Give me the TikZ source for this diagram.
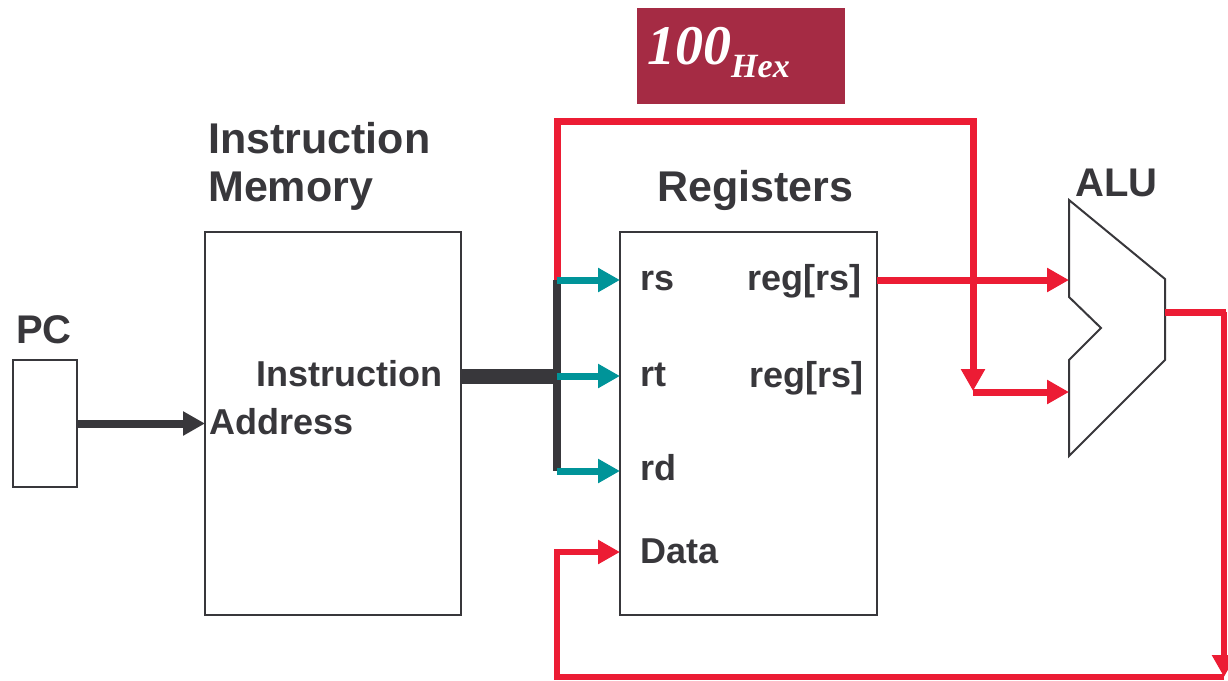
\documentclass[tikz,border=0pt]{standalone}
\usepackage{fontspec}
\setmainfont{Liberation Sans}
\newfontfamily\numfont{Liberation Serif}
\usetikzlibrary{arrows.meta}

\definecolor{ink}{RGB}{56,55,59}
\definecolor{wire}{RGB}{236,28,52}
\definecolor{tealwire}{RGB}{0,148,153}
\definecolor{maroon}{RGB}{165,43,68}

\begin{document}
\begin{tikzpicture}[x=1pt,y=-1pt,
  box/.style={draw=ink, line width=2pt, inner sep=0pt, outer sep=0pt, anchor=north west},
  title/.style={text=ink, font=\bfseries\fontsize{43}{48}\selectfont, inner sep=0pt, anchor=base west},
  port/.style={text=ink, font=\bfseries\fontsize{36}{40}\selectfont, inner sep=0pt, anchor=base west},
  headtip/.style={-{Triangle[length=22pt,width=23pt]}},
  darkwire/.style={draw=ink, line width=8pt},
  redwire/.style={draw=wire, line width=7pt},
  loopwire/.style={draw=wire, line width=5.5pt},
  tapwire/.style={draw=tealwire, line width=7pt, headtip},
]
\useasboundingbox (0,0) rectangle (1228,680);

% constant label
\node[fill=maroon, minimum width=208pt, minimum height=96pt, inner sep=0pt, anchor=north west] (hex) at (637,8) {};
\node[text=white, inner sep=0pt, anchor=base west,
      font=\numfont\bfseries\itshape\fontsize{56}{56}\selectfont] (hexval) at (647,64)
      {100\raisebox{-13pt}{\fontsize{34}{34}\selectfont Hex}};

% blocks
\node[box, minimum width=64pt, minimum height=127pt] (pc) at (13,360) {};
\node[box, minimum width=256pt, minimum height=383pt] (imem) at (205,232) {};
\node[box, minimum width=257pt, minimum height=383pt] (regs) at (620,232) {};

% block titles
\node[title, font=\bfseries\fontsize{40}{44}\selectfont] (pclabel) at (16,343) {PC};
\node[title] (imtitleA) at (208,153) {Instruction};
\node[title] (imtitleB) at (208,201) {Memory};
\node[title] (regtitle) at (657,201) {Registers};
\node[title, font=\bfseries\fontsize{40}{44}\selectfont] (alutitle) at (1075,196) {ALU};

% ports
\node[port] (instr) at (256,386) {Instruction};
\node[port] (addr) at (209,434) {Address};
\node[port] (rs) at (640,290) {rs};
\node[port] (rt) at (640,386) {rt};
\node[port] (rd) at (640,480) {rd};
\node[port] (data) at (640,563) {Data};
\node[port] (outA) at (747,290) {reg[rs]};
\node[port] (outB) at (749,387) {reg[rs]};

% junction points
\coordinate (tapS) at (557,280);
\coordinate (tapT) at (557,376);
\coordinate (tapD) at (557,471);
\coordinate (aluA) at (1069,280);
\coordinate (aluB) at (1069,392);
\coordinate (aluOut) at (1165,312);
\coordinate (constDrop) at (973,392);
\coordinate (loopCorner) at (1224,677);

% ALU outline
\draw[ink, line width=2pt, fill=white, line join=miter]
  (1069,200) -- (1165,279) -- (1165,360) -- (1069,456) -- (1069,360)
  -- (1101,328) -- (1069,297) -- cycle;

% PC to instruction memory
\draw[darkwire, headtip] (pc.east) -- (imem.west |- pc.east);

% constant wire
\draw[redwire] (tapS) -- (557,121) -- (973,121) -- (973,372);
\draw[redwire, -{Triangle[length=22pt,width=23pt]}] (973,360) -- (973,391);
\draw[redwire, headtip] (constDrop) -- (aluB);

% instruction bus and field split
\draw[ink, line width=15pt] (imem.east |- tapT) -- (tapT);
\draw[ink, line width=8pt] (tapS) -- (tapD);
\draw[tapwire] (tapS) -- (regs.west |- tapS);
\draw[tapwire] (tapT) -- (regs.west |- tapT);
\draw[tapwire] (tapD) -- (regs.west |- tapD);

% register output to ALU
\draw[redwire, headtip] (regs.east |- aluA) -- (aluA);

% ALU result back to the data input
\draw[redwire] (aluOut) -- (1226,312);
\draw[loopwire, headtip] (1224,312) -- (loopCorner);
\draw[loopwire, headtip] (loopCorner) -- (557,677) -- (557,552) -- (regs.west |- 0,552);
\end{tikzpicture}
\end{document}
